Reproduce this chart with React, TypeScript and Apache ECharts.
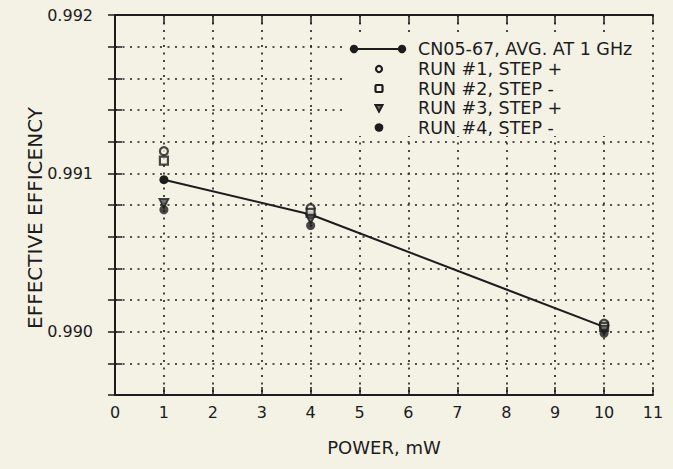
import React, { useEffect, useRef } from "react";
import * as echarts from "echarts";

const avgLine: [number, number][] = [[1, 0.99096], [4, 0.99074], [10, 0.99003]];
const run1: [number, number][] = [[1, 0.99114], [4, 0.99078], [10, 0.99005]];
const run2: [number, number][] = [[1, 0.99108], [4, 0.99075], [10, 0.99003]];
const run3: [number, number][] = [[1, 0.99081], [4, 0.99071], [10, 0.99001]];
const run4: [number, number][] = [[1, 0.99077], [4, 0.99067], [10, 0.98999]];
const legendLabels = [
  "CN05-67, AVG. AT 1 GHz",
  "RUN #1, STEP +",
  "RUN #2, STEP -",
  "RUN #3, STEP +",
  "RUN #4, STEP -",
];
const xTitle = "POWER, mW";
const yTitle = "EFFECTIVE EFFICENCY";

const BG = "#f4f1e5";
const INK = "#1c1c1c";
const FONT = "'DejaVu Sans', 'Liberation Sans', Arial, sans-serif";

export default function App() {
  const ref = useRef<HTMLDivElement>(null);
  useEffect(() => {
    if (!ref.current) return;
    const chart = echarts.init(ref.current, undefined, { renderer: "svg" });
    const grid = { left: 115, right: 20, top: 15, bottom: 74 };
    const dotted = { show: true, lineStyle: { color: INK, width: 1.6, type: [2, 5.5] as any } };
    const rowY = [49, 69, 88.5, 108, 127.5];
    const graphics: any[] = [
      { type: "rect", z: 100, shape: { x: 344, y: 35, width: 307, height: 101 }, style: { fill: BG } },
      { type: "line", z: 101, shape: { x1: 354, y1: rowY[0], x2: 402, y2: rowY[0] }, style: { stroke: INK, lineWidth: 2 } },
      { type: "circle", z: 101, shape: { cx: 354, cy: rowY[0], r: 4.2 }, style: { fill: INK } },
      { type: "circle", z: 101, shape: { cx: 402, cy: rowY[0], r: 4.2 }, style: { fill: INK } },
      { type: "circle", z: 101, shape: { cx: 379, cy: rowY[1], r: 3 }, style: { fill: BG, stroke: INK, lineWidth: 2.2 } },
      { type: "rect", z: 101, shape: { x: 375.5, y: rowY[2] - 3.5, width: 7, height: 7, r: 1 }, style: { fill: BG, stroke: INK, lineWidth: 2.2 } },
      { type: "polygon", z: 101, shape: { points: [[375.3, rowY[3] - 3], [382.7, rowY[3] - 3], [379, rowY[3] + 3.8]] }, style: { fill: "#666", stroke: INK, lineWidth: 1.8 } },
      { type: "circle", z: 101, shape: { cx: 379, cy: rowY[4], r: 4.3 }, style: { fill: INK } },
      {
        type: "text",
        z: 102,
        x: 35,
        y: 218,
        rotation: Math.PI / 2,
        style: { text: yTitle, fill: INK, font: `20px ${FONT}`, align: "center", verticalAlign: "middle" },
      },
    ];
    legendLabels.forEach((t, i) => {
      graphics.push({
        type: "text",
        z: 102,
        x: 418,
        y: rowY[i],
        style: { text: t, fill: INK, font: `17.5px ${FONT}`, verticalAlign: "middle", align: "left" },
      });
    });
    const axisLineStyle = { show: true, lineStyle: { color: INK, width: 2 } };
    const tickStyle = (len: number) => ({ show: true, inside: true, length: len, lineStyle: { color: INK, width: 1.5 } });
    chart.setOption({
      animation: false,
      backgroundColor: BG,
      textStyle: { fontFamily: FONT },
      grid,
      xAxis: [
        {
          type: "value",
          min: 0,
          max: 11,
          interval: 1,
          position: "bottom",
          axisLine: axisLineStyle,
          axisTick: tickStyle(8),
          axisLabel: { color: INK, fontSize: 16, margin: 9, fontFamily: FONT },
          splitLine: dotted,
          name: xTitle,
          nameLocation: "middle",
          nameGap: 43,
          nameTextStyle: { color: INK, fontSize: 18, fontFamily: FONT },
        },
        {
          type: "value",
          min: 0,
          max: 11,
          interval: 1,
          position: "top",
          axisLine: axisLineStyle,
          axisTick: tickStyle(9),
          axisLabel: { show: false },
          splitLine: { show: false },
        },
      ],
      yAxis: [
        {
          type: "value",
          min: 0.9896,
          max: 0.992,
          interval: 0.0002,
          position: "left",
          axisLine: axisLineStyle,
          axisTick: tickStyle(7),
          axisLabel: {
            color: INK,
            fontSize: 16,
            margin: 22,
            fontFamily: FONT,
            formatter: (v: number) => {
              const k = v * 1000;
              return Math.abs(k - Math.round(k)) < 1e-6 ? v.toFixed(3) : "";
            },
          },
          splitLine: dotted,
        },
        {
          type: "value",
          min: 0.9896,
          max: 0.992,
          interval: 0.0002,
          position: "right",
          axisLine: axisLineStyle,
          axisTick: tickStyle(7),
          axisLabel: { show: false },
          splitLine: { show: false },
        },
      ],
      series: [
        {
          name: legendLabels[0],
          type: "line",
          data: avgLine,
          symbol: "circle",
          symbolSize: 9,
          itemStyle: { color: INK },
          lineStyle: { color: INK, width: 2 },
          z: 5,
        },
        {
          name: legendLabels[1],
          type: "scatter",
          data: run1,
          symbol: "circle",
          symbolSize: 8,
          itemStyle: { color: BG, borderColor: INK, borderWidth: 2.2 },
          z: 6,
        },
        {
          name: legendLabels[2],
          type: "scatter",
          data: run2,
          symbol: "rect",
          symbolSize: 8,
          itemStyle: { color: BG, borderColor: INK, borderWidth: 2.2 },
          z: 6,
        },
        {
          name: legendLabels[3],
          type: "scatter",
          data: run3,
          symbol: "triangle",
          symbolRotate: 180,
          symbolSize: 9,
          itemStyle: { color: "#555", borderColor: INK, borderWidth: 1.8 },
          z: 6,
        },
        {
          name: legendLabels[4],
          type: "scatter",
          data: run4,
          symbol: "circle",
          symbolSize: 9,
          itemStyle: { color: INK },
          z: 6,
        },
      ],
      graphic: graphics,
    });
    return () => chart.dispose();
  }, []);
  return (
    <div
      ref={ref}
      style={{ position: "fixed", left: 0, top: 0, width: 673, height: 469 }}
    />
  );
}
